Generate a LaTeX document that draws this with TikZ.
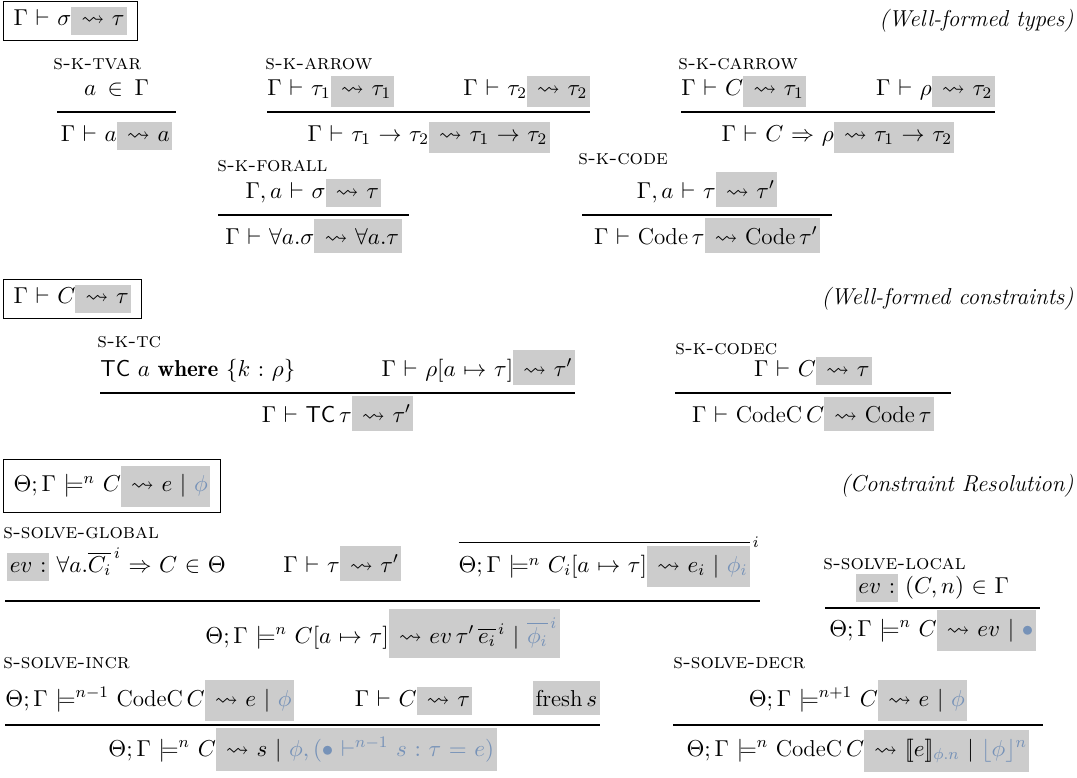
\RequirePackage{fix-cm}
\documentclass[tikz,border=0pt]{standalone}
\usepackage{amsmath,amssymb}
\usepackage{fontspec}
\usetikzlibrary{calc}
\definecolor{hlgray}{RGB}{204,204,204}
\definecolor{phiblue}{RGB}{118,146,184}
\thickmuskip=6mu plus 4mu
\newcommand{\hl}[1]{{\setlength{\fboxsep}{4.5pt}\colorbox{hlgray}{\kern-3.3pt$#1$\kern-3.3pt}}}
\newcommand{\ph}[1]{\textcolor{phiblue}{#1}}
\tikzstyle{judg}=[inner sep=0pt, font=\fontsize{11.5}{14}\selectfont]
\tikzstyle{rname}=[inner sep=0pt, anchor=base west, font=\fontsize{10.5}{12}\selectfont\scshape]
\tikzstyle{hdr}=[draw, line width=0.5pt, inner xsep=5pt, inner ysep=3pt, anchor=west, font=\fontsize{11.5}{14}\selectfont]
\tikzstyle{title}=[inner sep=0pt, anchor=base east, font=\fontsize{11.5}{14}\selectfont\itshape]
\tikzstyle{ruleline}=[draw, line width=0.6pt]

\begin{document}
\begin{tikzpicture}[x=0.5pt, y=-0.5pt]
	\useasboundingbox (0,0) rectangle (1077,777);
	\def\prem{-17};
	\def\conc{29};

%headers
	\node[hdr] (hdrT) at (3,21) {$\Gamma\vdash\sigma\hl{{}\leadsto\tau}$};
	\node[hdr] (hdrC) at (3,299) {$\Gamma\vdash C\hl{{}\leadsto\tau}$};
	\node[hdr] (hdrR) at (3,486) {$\Theta;\Gamma\models^{n} C\hl{{}\leadsto e\mid\ph{\phi}}$};
	\node[title] (titT) at (1074,26) {(Well-formed types)};
	\node[title] (titC) at (1074,304) {(Well-formed constraints)};
	\node[title] (titR) at (1074,491) {(Constraint Resolution)};

%rule lines
	\foreach \name/\xa/\xb/\yy in {tvar/57/176/112, arrow/267/590/112, carrow/681/995/112,
		forall/218/409/215, code/582/832/215, tc/100/575/393, codec/675/951/393,
		global/5/760/601, local/825/1040/608, incr/5/600/725, decr/673/1043/725}
	{
		\coordinate (\name A) at (\xa,\yy);
		\coordinate (\name B) at (\xb,\yy);
		\draw[ruleline] (\name A) -- (\name B);
	}

%rule names
	\node[rname] (tvarN) at (53,69) {s-k-tvar};
	\node[rname] (arrowN) at (265,69) {s-k-arrow};
	\node[rname] (carrowN) at (678,69) {s-k-carrow};
	\node[rname] (forallN) at (217,171) {s-k-forall};
	\node[rname] (codeN) at (578,164) {s-k-code};
	\node[rname] (tcN) at (97,347) {s-k-tc};
	\node[rname] (codecN) at (675,354) {s-k-codec};
	\node[rname] (globalN) at (3,538) {s-solve-global};
	\node[rname] (localN) at (823,569) {s-solve-local};
	\node[rname] (incrN) at (3,668) {s-solve-incr};
	\node[rname] (decrN) at (673,668) {s-solve-decr};

%S-K-TVAR
	\node[judg, anchor=base] (tvarP) at ($(tvarA)!0.5!(tvarB)+(0,\prem)$) {$a\,\in\,\Gamma$};
	\node[judg, anchor=base] (tvarC) at ($(tvarA)!0.5!(tvarB)+(0,\conc)$) {$\Gamma\vdash a\hl{{}\leadsto a}$};

%S-K-ARROW
	\node[judg, anchor=base west] (arrowP1) at ($(arrowA)+(0,\prem)$) {$\Gamma\vdash\tau_1\hl{{}\leadsto\tau_1}$};
	\node[judg, anchor=base east] (arrowP2) at ($(arrowB)+(0,\prem)$) {$\Gamma\vdash\tau_2\hl{{}\leadsto\tau_2}$};
	\node[judg, anchor=base] (arrowC) at ($(arrowA)!0.5!(arrowB)+(0,\conc)$) {$\Gamma\vdash\tau_1\to\tau_2\hl{{}\leadsto\tau_1\to\tau_2}$};

%S-K-CARROW
	\node[judg, anchor=base west] (carrowP1) at ($(carrowA)+(0,\prem)$) {$\Gamma\vdash C\hl{{}\leadsto\tau_1}$};
	\node[judg, anchor=base east] (carrowP2) at ($(carrowB)+(0,\prem)$) {$\Gamma\vdash\rho\hl{{}\leadsto\tau_2}$};
	\node[judg, anchor=base] (carrowC) at ($(carrowA)!0.5!(carrowB)+(0,\conc)$) {$\Gamma\vdash C\Rightarrow\rho\hl{{}\leadsto\tau_1\to\tau_2}$};

%S-K-FORALL
	\node[judg, anchor=base] (forallP) at ($(forallA)!0.5!(forallB)+(0,\prem)$) {$\Gamma,a\vdash\sigma\hl{{}\leadsto\tau}$};
	\node[judg, anchor=base] (forallC) at ($(forallA)!0.5!(forallB)+(0,\conc)$) {$\Gamma\vdash\forall a.\sigma\hl{{}\leadsto\forall a.\tau}$};

%S-K-CODE
	\node[judg, anchor=base] (codeP) at ($(codeA)!0.5!(codeB)+(0,\prem)$) {$\Gamma,a\vdash\tau\hl{{}\leadsto\tau'}$};
	\node[judg, anchor=base] (codeC) at ($(codeA)!0.5!(codeB)+(0,\conc)$) {$\Gamma\vdash\mathrm{Code}\,\tau\hl{{}\leadsto\mathrm{Code}\,\tau'}$};

%S-K-TC
	\node[judg, anchor=base west] (tcP1) at ($(tcA)+(0,\prem)$) {$\mathsf{TC}\;a\;\mathbf{where}\;\{k:\rho\}$};
	\node[judg, anchor=base east] (tcP2) at ($(tcB)+(0,\prem)$) {$\Gamma\vdash\rho[a\mapsto\tau]\hl{{}\leadsto\tau'}$};
	\node[judg, anchor=base] (tcC) at ($(tcA)!0.5!(tcB)+(0,\conc)$) {$\Gamma\vdash\mathsf{TC}\,\tau\hl{{}\leadsto\tau'}$};

%S-K-CODEC
	\node[judg, anchor=base] (codecP) at ($(codecA)!0.5!(codecB)+(0,\prem)$) {$\Gamma\vdash C\hl{{}\leadsto\tau}$};
	\node[judg, anchor=base] (codecC) at ($(codecA)!0.5!(codecB)+(0,\conc)$) {$\Gamma\vdash\mathrm{CodeC}\,C\hl{{}\leadsto\mathrm{Code}\,\tau}$};

%S-SOLVE-GLOBAL
	\node[judg, anchor=base west] (globalP1) at ($(globalA)+(2,-29)$) {$\hl{ev :}\;\forall a.\overline{C_i}^{\,i}\Rightarrow C\in\Theta$};
	\node[judg, anchor=base east] (globalP3) at ($(globalB)+(0,-29)$) {$\overline{\Theta;\Gamma\models^{n} C_i[a\mapsto\tau]\hl{{}\leadsto e_i\mid\ph{\phi_i}}}^{\,i}$};
	\node[judg, anchor=base] (globalP2) at ($(globalP1.base east)!0.5!(globalP3.base west)$) {$\Gamma\vdash\tau\hl{{}\leadsto\tau'}$};
	\node[judg, anchor=base] (globalC) at ($(globalA)!0.5!(globalB)+(0,42)$) {$\Theta;\Gamma\models^{n} C[a\mapsto\tau]\hl{{}\leadsto ev\,\tau'\,\overline{e_i}^{\,i}\mid\ph{\overline{\phi_i}^{\,i}}}$};

%S-SOLVE-LOCAL
	\node[judg, anchor=base] (localP) at ($(localA)!0.5!(localB)+(0,-15)$) {$\hl{ev :}\;(C,n)\in\Gamma$};
	\node[judg, anchor=base] (localC) at ($(localA)!0.5!(localB)+(0,28)$) {$\Theta;\Gamma\models^{n} C\hl{{}\leadsto ev\mid\ph{\bullet}}$};

%S-SOLVE-INCR
	\node[judg, anchor=base west] (incrP1) at ($(incrA)+(0,-19)$) {$\Theta;\Gamma\models^{n-1}\mathrm{CodeC}\,C\hl{{}\leadsto e\mid\ph{\phi}}$};
	\node[judg, anchor=base east] (incrP3) at ($(incrB)+(0,-19)$) {$\hl{\mathrm{fresh}\,s}$};
	\node[judg, anchor=base] (incrP2) at ($(incrP1.base east)!0.5!(incrP3.base west)$) {$\Gamma\vdash C\hl{{}\leadsto\tau}$};
	\node[judg, anchor=base] (incrC) at ($(incrA)!0.5!(incrB)+(0,31)$) {$\Theta;\Gamma\models^{n} C\hl{{}\leadsto s\mid\ph{\phi,(\bullet\vdash^{n-1}s:\tau=e)}}$};

%S-SOLVE-DECR
	\node[judg, anchor=base] (decrP) at ($(decrA)!0.5!(decrB)+(0,-19)$) {$\Theta;\Gamma\models^{n+1} C\hl{{}\leadsto e\mid\ph{\phi}}$};
	\node[judg, anchor=base] (decrC) at ($(decrA)!0.5!(decrB)+(0,31)$) {$\Theta;\Gamma\models^{n}\mathrm{CodeC}\,C\hl{{}\leadsto[\![e]\!]_{\ph{\phi.n}}\mid\ph{\lfloor\phi\rfloor^{n}}}$};

\end{tikzpicture}
\end{document}
